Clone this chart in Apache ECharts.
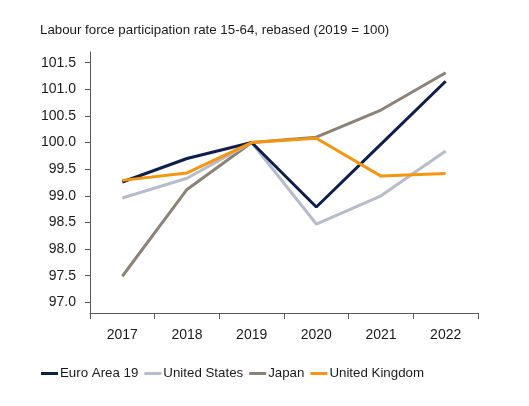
<!DOCTYPE html>
<html>
<head>
<meta charset="utf-8">
<title>Labour force participation</title>
<style>
  html, body { margin: 0; padding: 0; background: #fff; }
  #chart { width: 529px; height: 406px; }
</style>
</head>
<body>
<div id="chart"></div>
<script src="https://cdn.jsdelivr.net/npm/echarts@6/dist/echarts.min.js"></script>
<script>
var years = ['2017', '2018', '2019', '2020', '2021', '2022'];
var yTicks = [97.0, 97.5, 98.0, 98.5, 99.0, 99.5, 100.0, 100.5, 101.0, 101.5];

var euroArea = [99.26, 99.70, 100.0, 98.79, 99.97, 101.15];
var unitedStates = [98.96, 99.33, 100.0, 98.47, 99.00, 99.84];
var japan = [97.49, 99.12, 100.0, 100.10, 100.61, 101.31];
var unitedKingdom = [99.29, 99.43, 100.0, 100.08, 99.37, 99.42];

var names = ['Euro Area 19', 'United States', 'Japan', 'United Kingdom'];
var colors = ['#0e1f4d', '#b5bccb', '#8c8276', '#f7950f'];
var values = [euroArea, unitedStates, japan, unitedKingdom];

var textColor = '#1a1a1a';
var fontFamily = 'Liberation Sans, Arial, sans-serif';

var chart = echarts.init(document.getElementById('chart'));

var series = names.map(function (n, i) {
  return {
    name: n,
    type: 'line',
    data: values[i],
    symbol: 'none',
    lineStyle: { width: 3, color: colors[i] },
    itemStyle: { color: colors[i] },
    z: 10 - i
  };
});
// UK and Euro area drawn on top, as in the picture
series[3].z = 20;
series[0].z = 15;

chart.setOption({
  animation: false,
  title: {
    text: 'Labour force participation rate 15-64, rebased (2019 = 100)',
    left: 35,
    top: 19,
    textStyle: { fontSize: 13.3, fontWeight: 'normal', color: textColor, fontFamily: fontFamily }
  },
  legend: {
    data: names,
    left: 36,
    top: 362,
    icon: 'rect',
    itemWidth: 17,
    itemHeight: 3,
    itemGap: 6,
    textStyle: { fontSize: 13.3, color: textColor, fontFamily: fontFamily, padding: [0, 0, 0, -3] }
  },
  grid: { left: 90, right: 51, top: 52, bottom: 93, containLabel: false },
  xAxis: {
    type: 'category',
    data: years,
    boundaryGap: true,
    axisLine: { lineStyle: { color: '#595959', width: 1 } },
    axisTick: { show: true, alignWithLabel: false, length: 6, lineStyle: { color: '#595959' } },
    axisLabel: { color: textColor, fontSize: 14, margin: 15, fontFamily: fontFamily }
  },
  yAxis: {
    type: 'value',
    min: 96.8,
    max: 101.7,
    axisLine: { show: true, lineStyle: { color: '#595959', width: 1 } },
    axisTick: { show: true, length: 5, inside: false, customValues: yTicks, lineStyle: { color: '#595959' } },
    splitLine: { show: false },
    axisLabel: {
      customValues: yTicks,
      color: textColor,
      fontSize: 14,
      margin: 14,
      fontFamily: fontFamily,
      formatter: function (v) { return v.toFixed(1); }
    }
  },
  series: series
});
</script>
</body>
</html>
